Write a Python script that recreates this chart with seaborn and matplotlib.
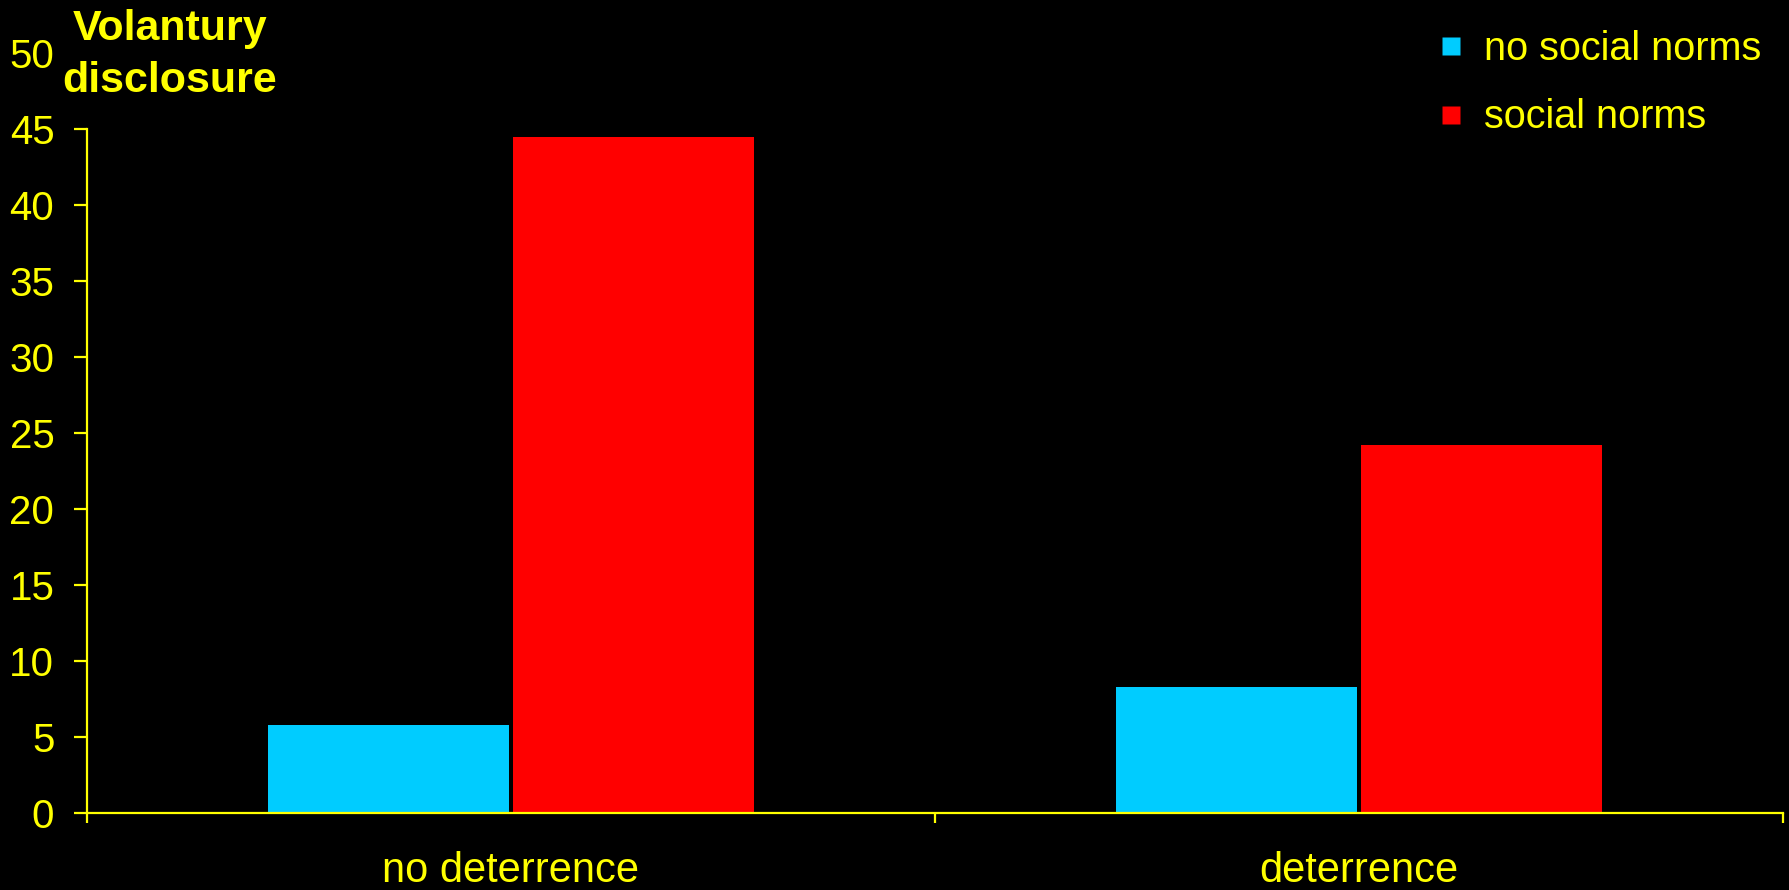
import matplotlib
matplotlib.use("Agg")
import matplotlib.pyplot as plt
from matplotlib.lines import Line2D
import seaborn as sns
import pandas as pd

# Mean voluntary disclosure by treatment
treatments = ["no deterrence", "deterrence"]
norm_groups = ["no social norms", "social norms"]
no_norms_values = [5.8, 8.3]
norms_values = [44.5, 24.2]
y_ticks = [0, 5, 10, 15, 20, 25, 30, 35, 40, 45, 50]

YELLOW = "#FFFF00"
CYAN = "#00CCFF"
RED = "#FF0000"

df = pd.DataFrame({
    "treatment": treatments * 2,
    "group": [norm_groups[0]] * 2 + [norm_groups[1]] * 2,
    "value": no_norms_values + norms_values,
})

sns.set_theme(style="white")
plt.rcParams["font.family"] = ["Liberation Sans", "DejaVu Sans"]

fig = plt.figure(figsize=(17.89, 8.90), dpi=100, facecolor="black")
ax = fig.add_axes([87 / 1789, 1 - 813 / 890, (1783 - 87) / 1789, 760 / 890])
ax.set_facecolor("black")

sns.barplot(data=df, x="treatment", y="value", hue="group", order=treatments,
            hue_order=norm_groups, palette=[CYAN, RED], width=0.58, gap=0.02,
            saturation=1, edgecolor="none", linewidth=0, legend=False, ax=ax)

ax.set_xlim(-0.5, 1.5)
ax.set_ylim(0, 50)
ax.set_yticks(y_ticks)
ax.set_yticklabels([str(t) for t in y_ticks])
ax.set_xticks([0, 1])
ax.set_xticklabels(treatments)
ax.set_xticks([-0.5, 0.5, 1.5], minor=True)
ax.set_xlabel("")
ax.set_ylabel("")

for side in ["top", "right"]:
    ax.spines[side].set_visible(False)
for side in ["left", "bottom"]:
    ax.spines[side].set_color(YELLOW)
    ax.spines[side].set_linewidth(1.6)
# the y axis line stops at 45; the top label sits beside the axis title
ax.spines["left"].set_bounds(0, 45)

ax.tick_params(axis="y", which="major", direction="out", length=9.5, width=1.6,
               color=YELLOW, labelcolor=YELLOW, labelsize=29, pad=14, left=True)
ax.yaxis.get_major_ticks()[-1].tick1line.set_visible(False)
ax.tick_params(axis="x", which="major", length=0, labelcolor=YELLOW,
               labelsize=30, pad=27, bottom=True)
ax.tick_params(axis="x", which="minor", direction="out", length=7.5, width=1.6,
               color=YELLOW, bottom=True)

fig.text(170 / 1789, 1 - 9 / 890, "Volantury\ndisclosure", ha="center", va="top",
         fontsize=31, fontweight="bold", color=YELLOW, linespacing=1.4, zorder=10)

handles = [Line2D([], [], marker="s", linestyle="none", markersize=13,
                  markerfacecolor=c, markeredgecolor="none") for c in (CYAN, RED)]
leg = fig.legend(handles, norm_groups, loc="upper left",
                 bbox_to_anchor=(1403 / 1789, 1 + 6 / 890), frameon=False,
                 fontsize=28.5, labelcolor=YELLOW, handlelength=0.6,
                 handletextpad=0.55, labelspacing=0.78)

fig.savefig("out.png", dpi=100, facecolor="black")
